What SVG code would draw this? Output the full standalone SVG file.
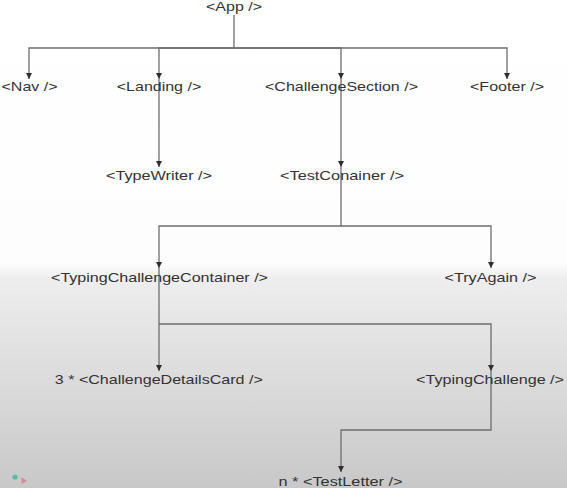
<svg xmlns="http://www.w3.org/2000/svg" width="567" height="488" viewBox="0 0 567 488">
  <defs>
    <linearGradient id="bg" x1="0" y1="0" x2="0" y2="1">
      <stop offset="0" stop-color="#ffffff"/>
      <stop offset="0.54" stop-color="#fdfdfd"/>
      <stop offset="0.57" stop-color="#eeeeee"/>
      <stop offset="0.75" stop-color="#dedede"/>
      <stop offset="1" stop-color="#c8c8c8"/>
    </linearGradient>
    <marker id="arrow" viewBox="0 0 6 6" refX="6" refY="3" markerWidth="6" markerHeight="6" markerUnits="userSpaceOnUse" orient="auto">
      <path d="M0,0 L6,3 L0,6 z" fill="#2e2e2e"/>
    </marker>
  </defs>
  <style>
    .edge { fill: none; stroke: #6e6e6e; stroke-width: 1.3; marker-end: url(#arrow); }
    .trunk { fill: none; stroke: #6e6e6e; stroke-width: 1.3; }
    .label { font-family: "Liberation Sans", Arial, sans-serif; font-size: 13px; fill: #333333; text-anchor: middle; }
  </style>

  <rect width="567" height="488" fill="url(#bg)"/>

  <!-- tree connectors -->
  <g id="connectors">
    <path class="trunk" d="M234,15 V48"/>
    <path class="edge" d="M234,48 H29 V79"/>
    <path class="edge" d="M234,48 H159 V79"/>
    <path class="edge" d="M234,48 H341 V79"/>
    <path class="edge" d="M234,48 H507 V79"/>
    <path class="edge" d="M159,79 V167"/>
    <path class="edge" d="M341,79 V167"/>
    <path class="edge" d="M341,167 V226 H159 V268"/>
    <path class="edge" d="M341,226 H491 V268"/>
    <path class="edge" d="M159,268 V371"/>
    <path class="edge" d="M159,324 H491 V371"/>
    <path class="edge" d="M491,371 V430 H341 V472"/>
  </g>

  <!-- component nodes -->
  <g id="app"><text class="label" x="234" y="11" textLength="56" lengthAdjust="spacingAndGlyphs">&lt;App /&gt;</text></g>
  <g id="nav"><text class="label" x="29.5" y="91" textLength="56" lengthAdjust="spacingAndGlyphs">&lt;Nav /&gt;</text></g>
  <g id="landing"><text class="label" x="159" y="91" textLength="84.5" lengthAdjust="spacingAndGlyphs">&lt;Landing /&gt;</text></g>
  <g id="challenge-section"><text class="label" x="341.5" y="91" textLength="153" lengthAdjust="spacingAndGlyphs">&lt;ChallengeSection /&gt;</text></g>
  <g id="footer"><text class="label" x="507" y="91" textLength="74" lengthAdjust="spacingAndGlyphs">&lt;Footer /&gt;</text></g>
  <g id="typewriter"><text class="label" x="159" y="180" textLength="106" lengthAdjust="spacingAndGlyphs">&lt;TypeWriter /&gt;</text></g>
  <g id="test-container"><text class="label" x="342" y="180" textLength="124" lengthAdjust="spacingAndGlyphs">&lt;TestConainer /&gt;</text></g>
  <g id="typing-challenge-container"><text class="label" x="159.5" y="282" textLength="217" lengthAdjust="spacingAndGlyphs">&lt;TypingChallengeContainer /&gt;</text></g>
  <g id="try-again"><text class="label" x="490.5" y="282" textLength="92" lengthAdjust="spacingAndGlyphs">&lt;TryAgain /&gt;</text></g>
  <g id="challenge-details-card"><text class="label" x="158.8" y="384" textLength="208" lengthAdjust="spacingAndGlyphs">3 * &lt;ChallengeDetailsCard /&gt;</text></g>
  <g id="typing-challenge"><text class="label" x="490" y="384" textLength="148" lengthAdjust="spacingAndGlyphs">&lt;TypingChallenge /&gt;</text></g>
  <g id="test-letter"><text class="label" x="340.5" y="486" textLength="124" lengthAdjust="spacingAndGlyphs">n * &lt;TestLetter /&gt;</text></g>

  <!-- corner logo marks -->
  <g id="logo">
    <circle cx="15" cy="477" r="2.6" fill="#5fb8a6"/>
    <path d="M21.5,477 L27,481 L21.5,484 z" fill="#d98a98"/>
  </g>
</svg>
